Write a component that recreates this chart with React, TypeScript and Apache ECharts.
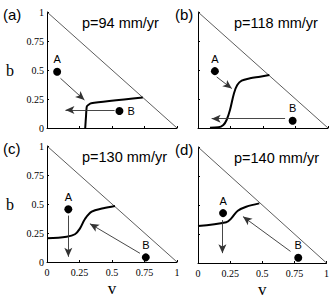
import React, { useEffect, useRef } from "react";
import * as echarts from "echarts";

const panelLetters = ["(a)", "(b)", "(c)", "(d)"];
const panelTitles = ["p=94 mm/yr", "p=118 mm/yr", "p=130 mm/yr", "p=140 mm/yr"];

const curveA = [[0.294, 0], [0.3, 0.1], [0.306, 0.184], [0.32, 0.2], [0.34, 0.213], [0.737, 0.262]];
const curveB = [[0.092, 0.003], [0.156, 0.006], [0.195, 0.026], [0.22, 0.069], [0.246, 0.155], [0.277, 0.3], [0.302, 0.37], [0.336, 0.408], [0.4, 0.428], [0.477, 0.442], [0.549, 0.457]];
const curveC = [[0, 0.204], [0.151, 0.218], [0.215, 0.239], [0.254, 0.29], [0.292, 0.371], [0.344, 0.434], [0.433, 0.463], [0.523, 0.483]];
const curveD = [[0, 0.319], [0.22, 0.351], [0.259, 0.385], [0.31, 0.451], [0.375, 0.485], [0.477, 0.514]];
const curves = [curveA, curveB, curveC, curveD];

const pointsA = [[0.078, 0.485], [0.13, 0.49], [0.164, 0.454], [0.195, 0.43]];
const pointsB = [[0.557, 0.147], [0.728, 0.063], [0.76, 0.04], [0.78, 0.045]];

const arrowsFromA = [
  [[0.104, 0.428], [0.288, 0.241]],
  [[0.144, 0.44], [0.26, 0.34]],
  [[0.164, 0.4], [0.164, 0.045]],
  [[0.19, 0.37], [0.19, 0.085]],
];
const arrowsFromB = [
  [[0.52, 0.155], [0.142, 0.155]],
  [[0.67, 0.08], [0.105, 0.08]],
  [[0.715, 0.075], [0.33, 0.33]],
  [[0.72, 0.1], [0.35, 0.4]],
];
const hypotenuse = [[0, 1], [1, 0]];

const gridPos = [
  { left: 47, top: 12 },
  { left: 198, top: 12 },
  { left: 47, top: 146 },
  { left: 198, top: 147 },
];

export default function App() {
  const ref = useRef<HTMLDivElement>(null);
  useEffect(() => {
    if (!ref.current) return;
    const chart = echarts.init(ref.current, null, { renderer: "svg" });
    const serif = "Liberation Serif";
    const sans = "Liberation Sans";
    const grids: any[] = [];
    const xAxes: any[] = [];
    const yAxes: any[] = [];
    const series: any[] = [];
    const graphics: any[] = [];
    for (let i = 0; i < 4; i++) {
      const g = gridPos[i];
      grids.push({ left: g.left, top: g.top, width: 130, height: 116 });
      const bottomRow = i >= 2;
      const leftCol = i % 2 === 0;
      xAxes.push({
        gridIndex: i, type: "value", min: 0, max: 1, interval: 0.25,
        splitLine: { show: false },
        axisLine: { lineStyle: { color: "#000", width: 1 } },
        axisTick: { inside: true, length: 2, lineStyle: { color: "#000" } },
        axisLabel: {
          show: bottomRow, color: "#000", fontFamily: serif, fontSize: 10, margin: 5,
          formatter: (v: number) => String(v),
        },
        name: bottomRow ? "v" : "", nameLocation: "middle", nameGap: 18,
        nameTextStyle: { color: "#000", fontFamily: serif, fontSize: 17 },
      });
      yAxes.push({
        gridIndex: i, type: "value", min: 0, max: 1, interval: 0.25,
        splitLine: { show: false },
        axisLine: { show: true, lineStyle: { color: "#000", width: 1 } },
        axisTick: { show: true, inside: true, length: 2, lineStyle: { color: "#000" } },
        axisLabel: {
          show: leftCol, color: "#000", fontFamily: serif, fontSize: 10, margin: 3,
          formatter: (v: number) => String(v),
        },
        name: leftCol ? "b" : "", nameLocation: "middle", nameGap: 33, nameRotate: 0,
        nameTextStyle: { color: "#000", fontFamily: serif, fontSize: 16 },
      });
      series.push({
        type: "line", xAxisIndex: i, yAxisIndex: i, data: hypotenuse, symbol: "none",
        lineStyle: { color: "#333", width: 0.8 }, silent: true,
      });
      series.push({
        type: "line", xAxisIndex: i, yAxisIndex: i, data: curves[i], symbol: "none",
        smooth: i === 0 ? 0.2 : 0.35,
        lineStyle: { color: "#000", width: 2 },
        markLine: {
          silent: true, symbol: ["none", "arrow"], symbolSize: [6, 9],
          label: { show: false },
          lineStyle: { color: "#333", width: 0.9, type: "solid" },
          data: [
            [{ coord: arrowsFromA[i][0] }, { coord: arrowsFromA[i][1] }],
            [{ coord: arrowsFromB[i][0] }, { coord: arrowsFromB[i][1] }],
          ],
        },
      });
      series.push({
        type: "scatter", xAxisIndex: i, yAxisIndex: i, symbolSize: 8,
        itemStyle: { color: "#000", opacity: 1 },
        data: [
          { value: pointsA[i], label: { show: true, formatter: "A", position: "top", distance: 3 } },
          { value: pointsB[i], label: { show: true, formatter: "B", position: i === 0 ? "right" : "top", distance: i === 0 ? 4 : 3 } },
        ],
        label: { color: "#000", fontFamily: sans, fontSize: 11 },
      });
      graphics.push({
        type: "text", left: i % 2 === 0 ? 3 : 175, top: g.top - 5,
        style: { text: panelLetters[i], fill: "#000", font: `15px ${sans}` },
      });
      graphics.push({
        type: "text", left: i % 2 === 0 ? 82 : 234, top: g.top + 3,
        style: { text: panelTitles[i], fill: "#000", font: `14.5px ${sans}` },
      });
    }
    chart.setOption({
      animation: false,
      backgroundColor: "#fff",
      grid: grids,
      xAxis: xAxes,
      yAxis: yAxes,
      series,
      graphic: graphics,
    });
    return () => chart.dispose();
  }, []);
  return <div ref={ref} style={{ position: "fixed", left: 0, top: 0, width: 332, height: 300 }} />;
}
